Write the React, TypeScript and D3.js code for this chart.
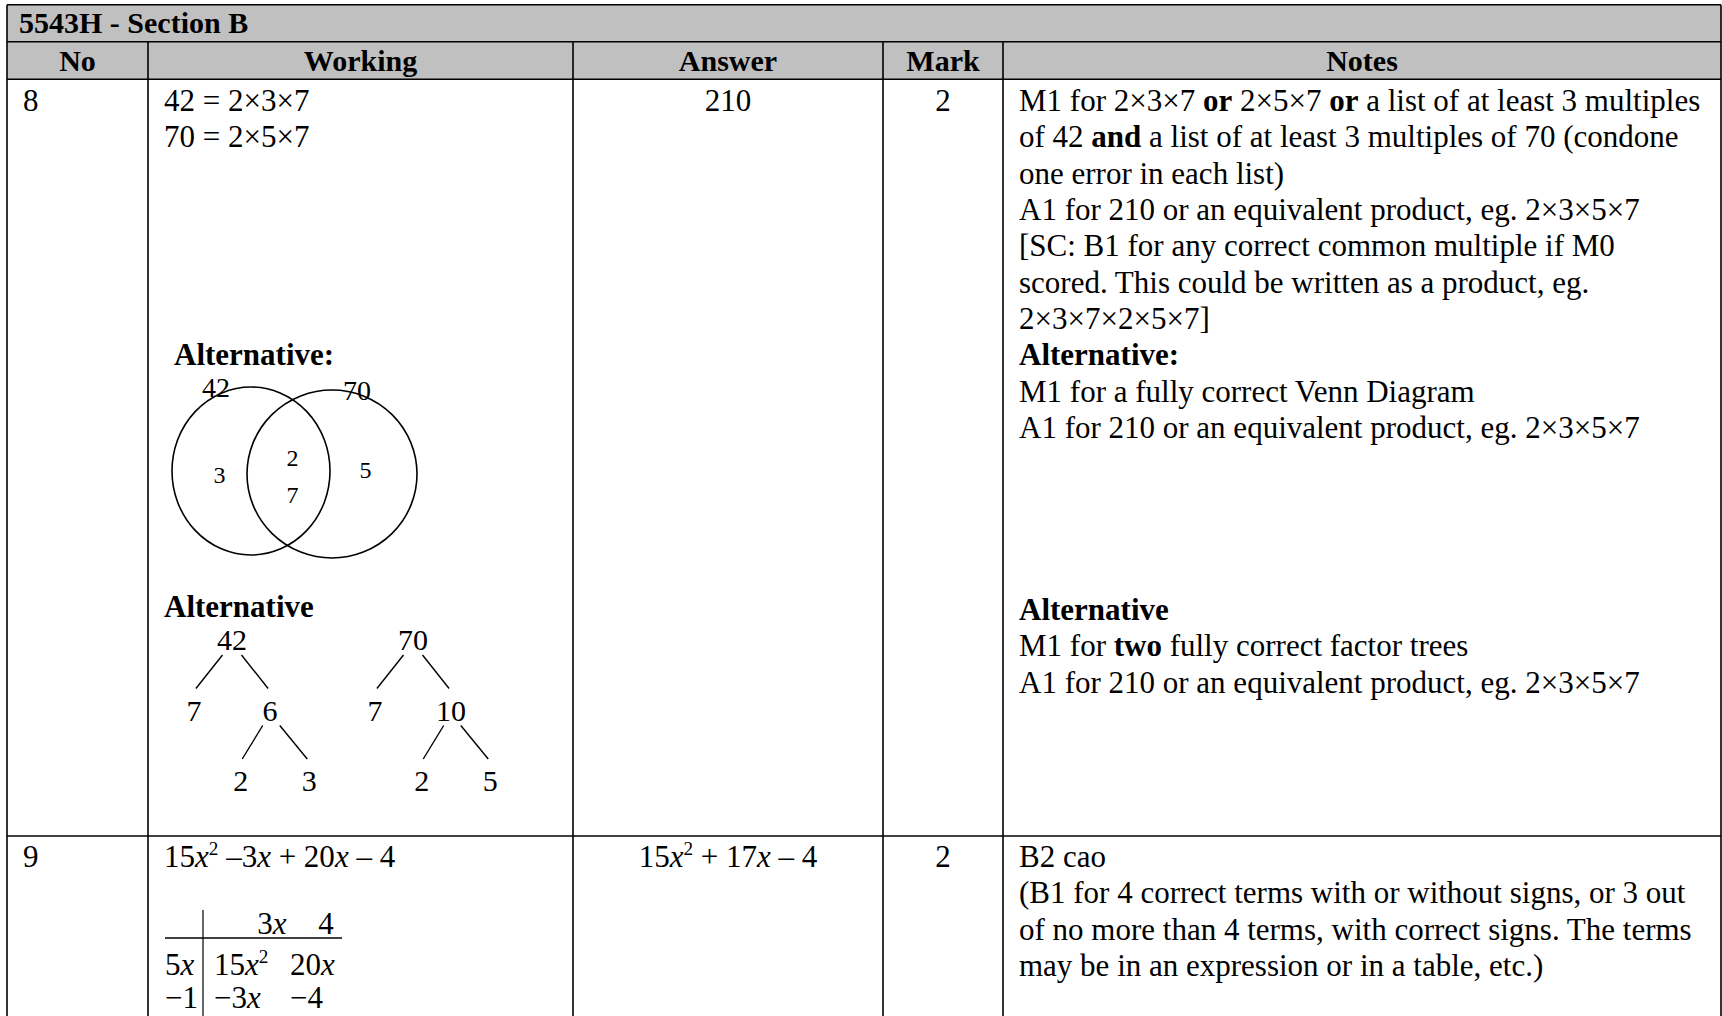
import React, { useEffect, useRef } from 'react';
import * as d3 from 'd3';

const W = 1722;
const H = 1016;

// table content
const title = '5543H - Section B';
const headers = ['No', 'Working', 'Answer', 'Mark', 'Notes'];
const questionNos = ['8', '9'];
const answers = ['210', '15x^2 + 17x – 4'];
const marks = ['2', '2'];

const working8 = ['42 = 2×3×7', '70 = 2×5×7'];
const working9 = ['15x^2 –3x + 20x – 4'];

const notes8 = [
  'M1 for 2×3×7 **or** 2×5×7 **or** a list of at least 3 multiples',
  'of 42 **and** a list of at least 3 multiples of 70 (condone',
  'one error in each list)',
  'A1 for 210 or an equivalent product, eg. 2×3×5×7',
  '[SC: B1 for any correct common multiple if M0',
  'scored. This could be written as a product, eg.',
  '2×3×7×2×5×7]',
  '**Alternative:**',
  'M1 for a fully correct Venn Diagram',
  'A1 for 210 or an equivalent product, eg. 2×3×5×7',
  '',
  '',
  '',
  '',
  '**Alternative**',
  'M1 for **two** fully correct factor trees',
  'A1 for 210 or an equivalent product, eg. 2×3×5×7',
];

const notes9 = [
  'B2 cao',
  '(B1 for 4 correct terms with or without signs, or 3 out',
  'of no more than 4 terms, with correct signs. The terms',
  'may be in an expression or in a table, etc.)',
];

// venn diagram
const vennSets = ['42', '70'];
const vennOnlyA = ['3'];
const vennBoth = ['2', '7'];
const vennOnlyB = ['5'];

// factor trees
const tree42 = { name: '42', children: [{ name: '7' }, { name: '6', children: [{ name: '2' }, { name: '3' }] }] };
const tree70 = { name: '70', children: [{ name: '7' }, { name: '10', children: [{ name: '2' }, { name: '5' }] }] };

// grid method for q9
const gridCols = ['3x', '4'];
const gridRows = ['5x', '−1'];
const gridCells = [
  ['15x^2', '20x'],
  ['−3x', '−4'],
];

const FONT = '"Liberation Serif", "Times New Roman", serif';
const FS = 31;

const colEdges = [7, 148, 573, 883, 1003, 1721];
const rowTop = [4.7, 41.7, 79.3, 836];

function splitMath(s: string) {
  return s.split(/(x\^2|x)/).filter(p => p !== '').map(p => {
    if (p === 'x^2') return [{ t: 'x', i: true }, { t: '2', sup: true }];
    if (p === 'x') return [{ t: 'x', i: true }];
    return [{ t: p }];
  }).flat();
}

function addText(g: any, x: number, y: number, str: string, opts: any = {}) {
  const size = opts.size ?? FS;
  const t = g.append('text')
    .attr('x', x)
    .attr('y', y)
    .attr('font-size', size)
    .attr('text-anchor', opts.anchor ?? 'start')
    .style('white-space', 'pre');
  if (opts.bold) t.attr('font-weight', 'bold');
  let shift = 0;
  str.split('**').forEach((part, i) => {
    const segs = opts.math ? splitMath(part) : [{ t: part }];
    segs.forEach((seg: any) => {
      const ts = t.append('tspan').text(seg.t);
      if (i % 2 === 1) ts.attr('font-weight', 'bold');
      if (seg.i) ts.attr('font-style', 'italic');
      if (seg.sup) {
        ts.attr('dy', -12).attr('font-size', size * 0.62);
        shift = 12;
      } else if (shift) {
        ts.attr('dy', shift);
        shift = 0;
      }
    });
  });
  return t;
}

const App = () => {
  const ref = useRef<SVGSVGElement>(null);

  useEffect(() => {
    const svg = d3.select(ref.current);
    svg.selectAll('*').remove();
    svg.attr('font-family', FONT).attr('fill', '#000');

    const colMid = (i: number) => (colEdges[i] + colEdges[i + 1]) / 2;
    const pad = 16;

    // header fill
    svg.append('rect')
      .attr('x', colEdges[0]).attr('y', rowTop[0])
      .attr('width', colEdges[5] - colEdges[0]).attr('height', rowTop[2] - rowTop[0])
      .attr('fill', '#c0c0c0');

    const grid = svg.append('g').attr('stroke', '#000').attr('stroke-width', 1.6);
    rowTop.forEach(y => {
      grid.append('line').attr('x1', colEdges[0]).attr('x2', colEdges[5]).attr('y1', y).attr('y2', y);
    });
    grid.append('line').attr('x1', colEdges[0]).attr('x2', colEdges[0]).attr('y1', rowTop[0]).attr('y2', H);
    grid.append('line').attr('x1', colEdges[5]).attr('x2', colEdges[5]).attr('y1', rowTop[0]).attr('y2', H);
    colEdges.slice(1, 5).forEach(x => {
      grid.append('line').attr('x1', x).attr('x2', x).attr('y1', rowTop[1]).attr('y2', H);
    });

    addText(svg, colEdges[0] + 12, 33, title, { bold: true, size: 30 });
    headers.forEach((h, i) => addText(svg, colMid(i), 70.5, h, { bold: true, size: 30, anchor: 'middle' }));

    const lineH = 36.35;
    const y8 = d3.scaleLinear().domain([0, 1]).range([rowTop[2] + 31.7, rowTop[2] + 31.7 + lineH]);
    const y9 = d3.scaleLinear().domain([0, 1]).range([rowTop[3] + 31, rowTop[3] + 31 + lineH]);
    const rowsY = [y8, y9];

    questionNos.forEach((q, r) => addText(svg, colEdges[0] + pad, rowsY[r](0), q));
    answers.forEach((a, r) => addText(svg, colMid(2), rowsY[r](0), a, { anchor: 'middle', math: true }));
    marks.forEach((m, r) => addText(svg, colMid(3), rowsY[r](0), m, { anchor: 'middle' }));

    const wx = colEdges[1] + pad;
    working8.forEach((l, i) => addText(svg, wx, y8(i), l));
    working9.forEach((l, i) => addText(svg, wx, y9(i), l, { math: true }));

    const nx = colEdges[4] + pad;
    notes8.forEach((l, i) => { if (l) addText(svg, nx, y8(i), l); });
    notes9.forEach((l, i) => addText(svg, nx, y9(i), l));

    // Venn alternative
    addText(svg, wx + 10, y8(7), 'Alternative:', { bold: true });
    const circles = [
      { cx: 251, cy: 471, rx: 79, ry: 84 },
      { cx: 332, cy: 474, rx: 85, ry: 84 },
    ];
    const venn = svg.append('g');
    venn.selectAll('ellipse').data(circles).enter().append('ellipse')
      .attr('cx', d => d.cx).attr('cy', d => d.cy).attr('rx', d => d.rx).attr('ry', d => d.ry)
      .attr('fill', 'none').attr('stroke', '#000').attr('stroke-width', 1.6);
    vennSets.forEach((s, i) => {
      const c = circles[i];
      addText(venn, c.cx + (i === 0 ? -35 : 25), c.cy - c.ry + 10, s, { size: 28, anchor: 'middle' });
    });
    const [A, B] = circles;
    const aL = A.cx - A.rx, aR = A.cx + A.rx, bL = B.cx - B.rx, bR = B.cx + B.rx;
    const yv = d3.scalePoint().domain(vennBoth).range([A.cy - 5, A.cy + 32]);
    vennOnlyA.forEach(v => addText(venn, (aL + bL) / 2 + 10, A.cy + 12, v, { size: 24, anchor: 'middle' }));
    vennBoth.forEach(v => addText(venn, (bL + aR) / 2 + 4, yv(v)!, v, { size: 24, anchor: 'middle' }));
    vennOnlyB.forEach(v => addText(venn, (aR + bR) / 2 - 8, A.cy + 7, v, { size: 24, anchor: 'middle' }));

    // factor tree alternative
    addText(svg, wx, 617, 'Alternative', { bold: true });
    const layout = d3.tree<any>().nodeSize([76, 70.5]).separation(a => (a.depth === 2 ? 0.9 : 1));
    const roots = [
      { data: tree42, x: 232 },
      { data: tree70, x: 413 },
    ];
    roots.forEach(r => {
      const root = layout(d3.hierarchy(r.data));
      // lower branches sit a little to the right of their parent
      root.descendants().forEach(n => { if (n.depth === 2) n.x += 5; });
      const g = svg.append('g').attr('transform', `translate(${r.x},650)`);
      g.selectAll('line').data(root.links()).enter().append('line')
        .attr('x1', d => d.source.x + (d.target.x - d.source.x) * 0.25)
        .attr('y1', d => d.source.y + 5)
        .attr('x2', d => d.target.x + (d.source.x - d.target.x) * 0.05)
        .attr('y2', d => d.target.y - 32)
        .attr('stroke', '#000').attr('stroke-width', 1.4);
      root.descendants().forEach(n => addText(g, n.x, n.y, n.data.name, { size: 30, anchor: 'middle' }));
    });

    // grid method
    const gx = d3.scaleBand().domain(gridCols).range([213, 369]);
    const gy = d3.scalePoint().domain(gridRows).range([975, 1008]);
    const hx = d3.scalePoint().domain(gridCols).range([272, 326]);
    const gm = svg.append('g');
    gm.append('line').attr('x1', 203).attr('x2', 203).attr('y1', 910).attr('y2', H)
      .attr('stroke', '#000').attr('stroke-width', 1.2);
    gm.append('line').attr('x1', 165).attr('x2', 342).attr('y1', 938).attr('y2', 938)
      .attr('stroke', '#000').attr('stroke-width', 1.6);
    gridCols.forEach(c => addText(gm, hx(c)!, 934, c, { anchor: 'middle', math: true }));
    gridRows.forEach((rw, i) => {
      addText(gm, 165, gy(rw)!, rw, { math: true });
      gridCells[i].forEach((cell, j) => addText(gm, gx(gridCols[j])! + (j === 1 ? -1 : 1), gy(rw)!, cell, { math: true }));
    });
  }, []);

  return (
    <svg
      ref={ref}
      width={W}
      height={H}
      style={{ position: 'absolute', left: 0, top: 0, background: '#fff' }}
    />
  );
};

export default App;
